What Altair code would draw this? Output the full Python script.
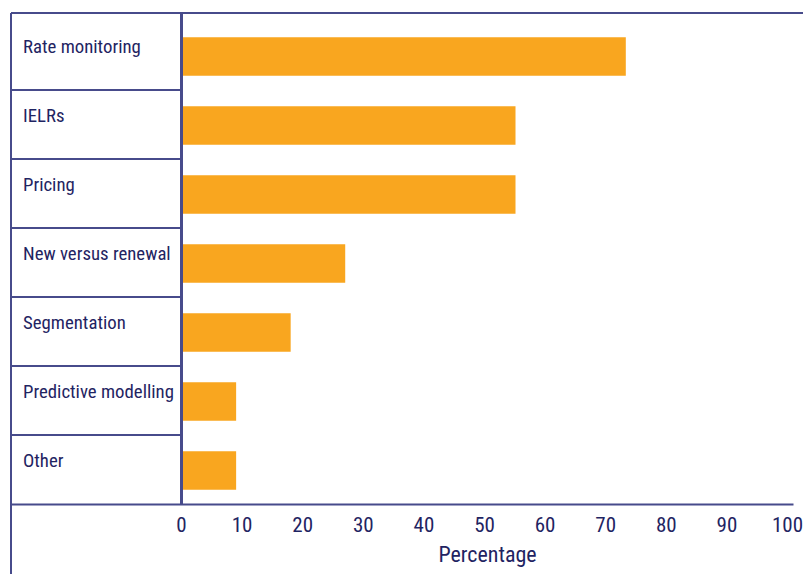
import altair as alt
import pandas as pd

categories = ["Rate monitoring", "IELRs", "Pricing", "New versus renewal",
              "Segmentation", "Predictive modelling", "Other"]
values = [73.4, 55.2, 55.2, 27.1, 18.1, 9.1, 9.1]
ticks = [0, 10, 20, 30, 40, 50, 60, 70, 80, 90, 100]

FONT = "Roboto Condensed"
TEXT = "#1f2462"
LINE = "#474b8b"
BAR = "#f9a61f"

df = pd.DataFrame({"cat": categories, "val": values})
sep_df = pd.DataFrame({"cat": categories[1:]})

xscale = alt.Scale(domain=[-28.05, 100.99], nice=False, zero=False)
yscale = alt.Scale(domain=categories, paddingInner=0, paddingOuter=0)

xaxis = alt.Axis(values=ticks, grid=False, ticks=False, tickSize=0,
                 labelPadding=10, labelFont=FONT, labelFontSize=21,
                 labelColor=TEXT, labelFlush=False, domainColor=LINE,
                 domainWidth=2, title="Percentage", titleFont=FONT,
                 titleFontSize=22, titleFontWeight="normal", titleColor=TEXT,
                 titleX=476, titleY=57, titleBaseline="alphabetic",
                 titleAnchor="middle", titleAlign="center")

bars = alt.Chart(df).mark_bar(size=38.5, yOffset=1, color=BAR).encode(
    x=alt.X("val:Q", scale=xscale, axis=xaxis),
    y=alt.Y("cat:N", scale=yscale, axis=None),
)

labels = alt.Chart(df).mark_text(align="left", baseline="middle", dy=-8.5,
                                 font=FONT, fontSize=18.8, color=TEXT).encode(
    x=alt.value(12),
    y=alt.Y("cat:N", scale=yscale, axis=None),
    text="cat:N",
)

seps = alt.Chart(sep_df).mark_rule(color=LINE, strokeWidth=2).encode(
    y=alt.Y("cat:N", scale=yscale, axis=None, bandPosition=0),
    x=alt.value(0),
    x2=alt.value(170),
)

top_border = alt.Chart(df).mark_rule(color=LINE, strokeWidth=2).encode(
    x=alt.value(0), x2=alt.value(792), y=alt.value(-8))
left_border = alt.Chart(df).mark_rule(color=LINE, strokeWidth=2).encode(
    x=alt.value(0), y=alt.value(-8), y2=alt.value(553))
divider = alt.Chart(df).mark_rule(color=LINE, strokeWidth=2).encode(
    x=alt.value(170.5), y=alt.value(-8), y2=alt.value(483))

chart = alt.layer(bars, seps, top_border, left_border, divider, labels).properties(
    width=782, height=483,
    padding={"left": 11, "top": 21, "right": 10, "bottom": 70},
    autosize=alt.AutoSizeParams(type="none"),
    background="white",
).configure_view(strokeWidth=0, stroke=None)

chart.save("out.html", embed_options={"renderer": "svg", "actions": False})
